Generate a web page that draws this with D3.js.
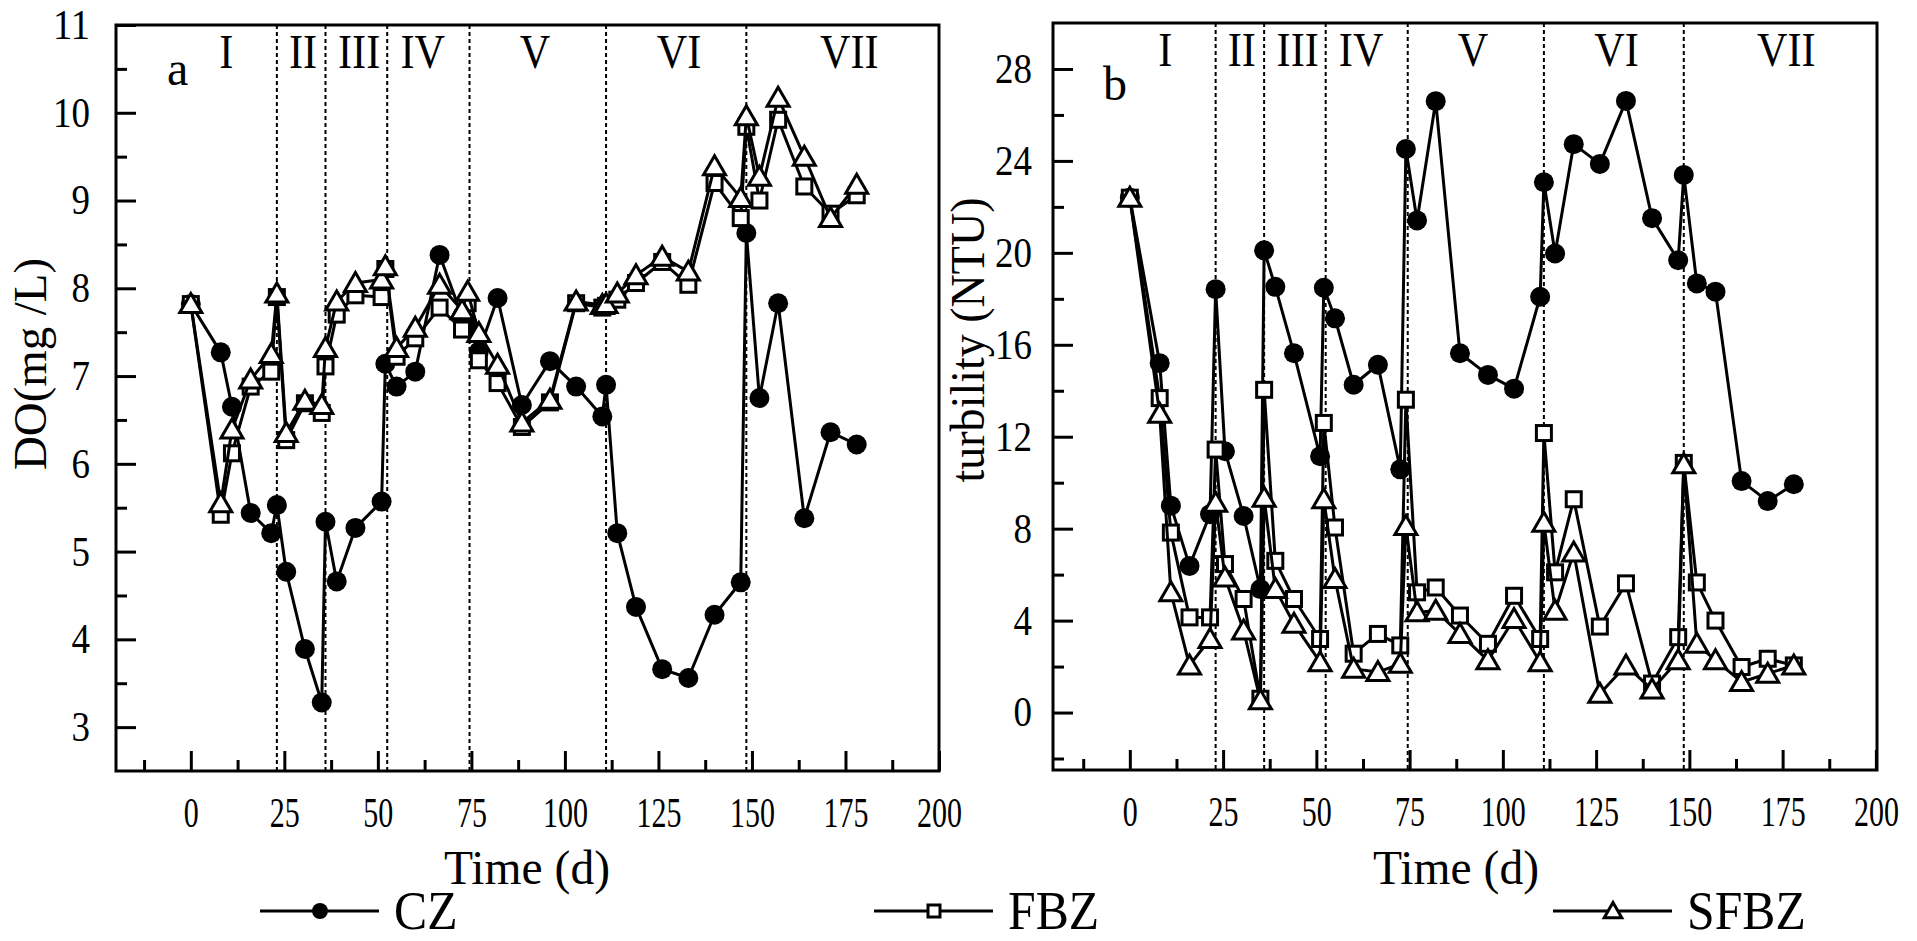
<!DOCTYPE html>
<html>
<head>
<meta charset="utf-8">
<script src="https://cdn.jsdelivr.net/npm/d3@7"></script>
<style>
body { margin: 0; background: #fff; }
svg { display: block; font-family: "Liberation Serif", "Times New Roman", serif; }
</style>
</head>
<body>
<svg width="1917" height="941"></svg>
<script>
// sampling days, shared by both panels
var days = [0, 8, 11, 16, 21.5, 23, 25.5, 30.5, 35, 36, 39, 44, 51, 52, 55, 60, 66.5, 72.5, 74, 77,
            82, 88.5, 96, 103, 110, 111, 114, 119, 126, 133, 140, 147, 148.5, 152, 157, 164, 171, 178];

// panel a: dissolved oxygen (mg/L)
var doCZ   = [7.82, 7.27, 6.65, 5.44, 5.21, 5.53, 4.77, 3.89, 3.28, 5.34, 4.66, 5.27, 5.57, 7.14, 6.88, 7.05, 8.38, 7.68, 7.6, 7.28,
              7.89, 6.67, 7.17, 6.88, 6.54, 6.9, 5.21, 4.37, 3.66, 3.56, 4.28, 4.65, 8.63, 6.75, 7.83, 5.38, 6.36, 6.22];
var doFBZ  = [7.82, 5.42, 6.12, 6.88, 7.05, 7.9, 6.27, 6.69, 6.58, 7.11, 7.7, 7.92, 7.9, 8.22, 7.22, 7.43, 7.78, 7.53, 7.83, 7.18,
              6.92, 6.42, 6.7, 7.83, 7.78, 7.8, 7.87, 8.06, 8.3, 8.04, 9.2, 8.8, 9.84, 9.0, 9.92, 9.16, 8.85, 9.06];
var doSFBZ = [7.82, 5.55, 6.39, 6.96, 7.25, 7.94, 6.35, 6.72, 6.67, 7.32, 7.85, 8.06, 8.1, 8.25, 7.32, 7.55, 8.04, 7.75, 7.96, 7.49,
              7.13, 6.47, 6.73, 7.85, 7.81, 7.82, 7.94, 8.15, 8.36, 8.19, 9.39, 9.03, 9.96, 9.27, 10.17, 9.5, 8.8, 9.18];

// panel b: turbidity (NTU)
var turCZ   = [22.4, 15.2, 9.0, 6.38, 8.63, 18.42, 11.37, 8.55, 5.37, 20.11, 18.52, 15.63, 11.15, 18.48, 17.15, 14.26, 15.13, 10.58, 24.52, 21.41,
               26.6, 15.63, 14.69, 14.09, 18.09, 23.07, 19.97, 24.73, 23.87, 26.61, 21.51, 19.68, 23.39, 18.67, 18.31, 10.07, 9.2, 9.93];
var turFBZ  = [22.4, 13.68, 7.83, 4.14, 4.14, 11.44, 6.46, 4.94, 0.6, 14.04, 6.6, 4.94, 3.2, 12.6, 8.05, 2.56, 3.42, 2.92, 13.61, 5.23,
               5.44, 4.22, 2.99, 5.08, 3.2, 12.16, 6.1, 9.28, 3.74, 5.62, 1.26, 3.28, 10.86, 5.66, 4.0, 1.98, 2.34, 2.05];
var turSFBZ = [22.4, 13.0, 5.23, 2.05, 3.2, 9.13, 5.88, 3.57, 0.53, 9.35, 5.37, 3.86, 2.19, 9.28, 5.81, 1.9, 1.76, 2.12, 8.12, 4.36,
               4.43, 3.42, 2.27, 4.07, 2.19, 8.26, 4.43, 6.96, 0.82, 2.05, 1.0, 2.27, 10.8, 2.99, 2.27, 1.33, 1.69, 2.05];

var seriesNames = ["CZ", "FBZ", "SFBZ"];
var markerKinds = ["circle", "square", "triangle"];

// stage boundaries (day) and stage labels
var stageBounds = [23, 36, 52.5, 74.5, 111, 148.5];
var stageNames  = ["I", "II", "III", "IV", "V", "VI", "VII"];
var stageMid    = [9.5, 30, 45, 62, 92, 130.5, 176];

// tick values
var timeTicks  = [0, 25, 50, 75, 100, 125, 150, 175, 200];
var timeMinor  = [-12.5, 12.5, 37.5, 62.5, 87.5, 112.5, 137.5, 162.5, 187.5];
var doTicks    = [3, 4, 5, 6, 7, 8, 9, 10, 11];
var doMinor    = [3.5, 4.5, 5.5, 6.5, 7.5, 8.5, 9.5, 10.5];
var turTicks   = [0, 4, 8, 12, 16, 20, 24, 28];
var turMinor   = [-2, 2, 6, 10, 14, 18, 22, 26];

var svg = d3.select("svg");

// narrows text glyphs to a fraction of their natural width
function squeeze(sel, f) {
  sel.each(function() {
    var w = this.getComputedTextLength();
    d3.select(this).attr("textLength", w * f).attr("lengthAdjust", "spacingAndGlyphs");
  });
}

// draws one marker shape at the origin of g
function marker(g, kind, s) {
  if (kind == "circle") {
    g.append("circle").attr("r", 10 * s).attr("fill", "#000");
  } else if (kind == "square") {
    g.append("rect").attr("x", -7.5 * s).attr("y", -7.5 * s)
      .attr("width", 15 * s).attr("height", 15 * s)
      .attr("fill", "#fff").attr("stroke", "#000").attr("stroke-width", 3);
  } else {
    var p = d3.path();
    p.moveTo(0, -10.5 * s); p.lineTo(11 * s, 8.5 * s); p.lineTo(-11 * s, 8.5 * s); p.closePath();
    g.append("path").attr("d", p.toString())
      .attr("fill", "#fff").attr("stroke", "#000").attr("stroke-width", 3).attr("stroke-linejoin", "miter");
  }
}

function drawPanel(o) {
  var x = d3.scaleLinear().domain(o.xDom).range([o.x0, o.x1]);
  var y = d3.scaleLinear().domain(o.yDom).range([o.y1, o.y0]);
  var g = svg.append("g");

  // stage dividers
  g.selectAll(".stage").data(stageBounds).enter().append("line")
    .attr("x1", function(d) { return x(d); }).attr("x2", function(d) { return x(d); })
    .attr("y1", o.y0).attr("y2", o.y1)
    .attr("stroke", "#000").attr("stroke-width", 2).attr("stroke-dasharray", "4,3");

  var roman = g.selectAll(".stagelbl").data(stageNames).enter().append("text")
    .attr("x", function(d, i) { return x(stageMid[i]); })
    .attr("y", o.y0 + 43)
    .attr("text-anchor", "middle").attr("font-size", 48)
    .text(function(d) { return d; });
  squeeze(roman, 0.88);

  // minor ticks
  g.append("g").attr("transform", "translate(" + o.x0 + ",0)")
    .call(d3.axisLeft(y).tickValues(o.yMinor).tickSizeInner(-11).tickSizeOuter(0).tickFormat(""));
  g.append("g").attr("transform", "translate(0," + o.y1 + ")")
    .call(d3.axisBottom(x).tickValues(timeMinor).tickSizeInner(-11).tickSizeOuter(0).tickFormat(""));

  // major ticks with labels
  var ya = g.append("g").attr("transform", "translate(" + o.x0 + ",0)")
    .call(d3.axisLeft(y).tickValues(o.yTicks).tickSizeInner(-20).tickSizeOuter(0).tickPadding(o.yPad));
  ya.selectAll("text").attr("font-size", 42).attr("font-family", "Liberation Serif")
    .attr("textLength", function(d) { return String(d).length * 18.5; })
    .attr("lengthAdjust", "spacingAndGlyphs");
  var xa = g.append("g").attr("transform", "translate(0," + o.y1 + ")")
    .call(d3.axisBottom(x).tickValues(timeTicks).tickSizeInner(-20).tickSizeOuter(0).tickPadding(26));
  xa.selectAll("text").attr("font-size", 42).attr("font-family", "Liberation Serif")
    .attr("textLength", function(d) { return String(d).length * 15; })
    .attr("lengthAdjust", "spacingAndGlyphs");
  g.selectAll(".domain").remove();
  g.selectAll(".tick line").attr("stroke", "#000").attr("stroke-width", 3);
  g.selectAll(".tick text").attr("fill", "#000");

  // frame
  g.append("rect").attr("x", o.x0).attr("y", o.y0)
    .attr("width", o.x1 - o.x0).attr("height", o.y1 - o.y0)
    .attr("fill", "none").attr("stroke", "#000").attr("stroke-width", 3);

  // series: line then markers
  var line = d3.line().x(function(d) { return x(d[0]); }).y(function(d) { return y(d[1]); });
  o.series.forEach(function(vals, k) {
    var pts = days.map(function(t, i) { return [t, vals[i]]; });
    g.append("path").datum(pts).attr("d", line)
      .attr("fill", "none").attr("stroke", "#000").attr("stroke-width", 3).attr("stroke-linejoin", "round");
    g.selectAll(".m" + k).data(pts).enter().append("g")
      .attr("transform", function(d) { return "translate(" + x(d[0]) + "," + y(d[1]) + ")"; })
      .each(function() { marker(d3.select(this), markerKinds[k], 1); });
  });

  // panel letter
  g.append("text").attr("x", o.letterX).attr("y", o.letterY)
    .attr("font-size", 48).text(o.letter);

  // axis titles
  g.append("text")
    .attr("transform", "translate(" + o.yTitleX + "," + o.yTitleY + ") rotate(-90)")
    .attr("text-anchor", "middle").attr("font-size", o.yTitleSize)
    .attr("textLength", o.yTitleLen).attr("lengthAdjust", "spacingAndGlyphs")
    .text(o.yTitle);
  g.append("text").attr("x", o.xTitleX).attr("y", 884)
    .attr("text-anchor", "middle").attr("font-size", 48)
    .attr("textLength", 166).attr("lengthAdjust", "spacingAndGlyphs")
    .text("Time (d)");
}

drawPanel({
  x0: 116, x1: 939, y0: 25, y1: 771, xDom: [-20, 200], yDom: [2.5, 11],
  yTicks: doTicks, yMinor: doMinor, yPad: 26,
  series: [doCZ, doFBZ, doSFBZ],
  letter: "a", letterX: 167, letterY: 85,
  yTitle: "DO(mg /L)", yTitleX: 46, yTitleY: 364, yTitleLen: 212, yTitleSize: 46,
  xTitleX: 527
});

drawPanel({
  x0: 1053, x1: 1877, y0: 23, y1: 770, xDom: [-20.6, 200.3], yDom: [-2.5, 30],
  yTicks: turTicks, yMinor: turMinor, yPad: 21,
  series: [turCZ, turFBZ, turSFBZ],
  letter: "b", letterX: 1103, letterY: 100,
  yTitle: "turbility (NTU)", yTitleX: 984, yTitleY: 340, yTitleLen: 285, yTitleSize: 48,
  xTitleX: 1456
});

// legend along the bottom
var legendX = [260, 874, 1553];
var legend = svg.append("g");
seriesNames.forEach(function(name, k) {
  var lg = legend.append("g").attr("transform", "translate(" + legendX[k] + ",911)");
  lg.append("line").attr("x1", 0).attr("x2", 119).attr("y1", 0).attr("y2", 0)
    .attr("stroke", "#000").attr("stroke-width", 3);
  marker(lg.append("g").attr("transform", "translate(60,0)"), markerKinds[k], 0.8);
  var t = lg.append("text").attr("x", 134).attr("y", 18).attr("font-size", 54).text(name);
  squeeze(t, 0.92);
});
</script>
</body>
</html>
